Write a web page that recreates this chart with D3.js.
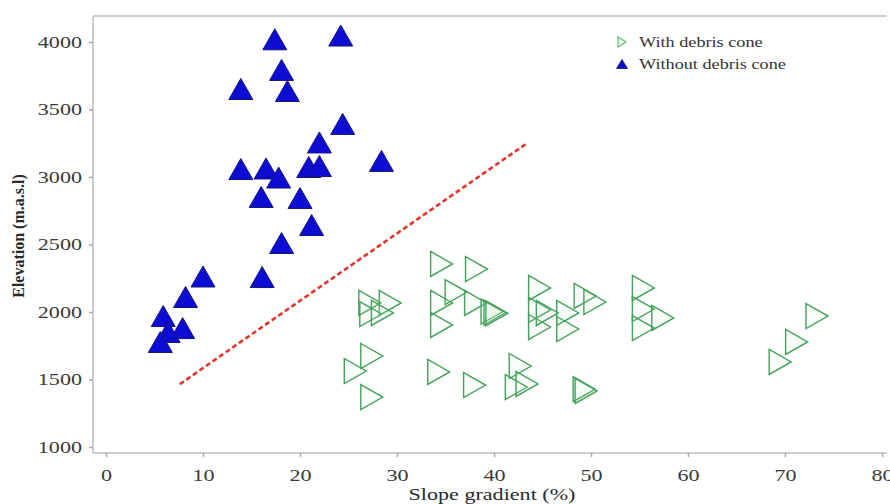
<!DOCTYPE html>
<html>
<head>
<meta charset="utf-8">
<script src="https://cdn.jsdelivr.net/npm/d3@7"></script>
<style>
  html, body { margin: 0; padding: 0; background: #fff; }
  svg { display: block; font-family: "Liberation Serif", "Times New Roman", serif; }
</style>
</head>
<body>
<svg id="chart" width="890" height="504"></svg>
<script>
// Slope gradient (%) and elevation (m a.s.l.) of gullies with a debris cone
const withConeSlope = [27.2, 27.3, 29.3, 28.5, 34.6, 38.2, 34.6, 34.6, 36.1, 38.1,
  39.8, 40.1, 40.3, 44.7, 44.7, 44.7, 45.5, 47.6, 47.6, 49.4, 50.4,
  55.4, 55.4, 55.4, 57.4, 73.3, 71.2, 69.5,
  27.4, 25.7, 27.4, 34.3, 38.0, 42.7, 42.3, 43.4, 49.3, 49.5];
const withConeElev = [2067, 1985, 2067, 1993, 2356, 2318, 2067, 1904, 2148, 2067,
  2003, 1995, 1990, 2178, 2015, 1889, 1993, 1993, 1874, 2119, 2074,
  2178, 2022, 1881, 1956, 1970, 1778, 1630,
  1674, 1563, 1370, 1556, 1459, 1600, 1444, 1467, 1428, 1415];

// Gullies without a debris cone
const withoutConeSlope = [17.4, 24.2, 18.1, 13.9, 18.7, 24.4, 22.0, 13.9, 16.5, 17.8,
  20.9, 22.0, 28.4, 16.0, 20.0, 21.2, 18.1, 10.0, 16.1, 8.2,
  5.9, 7.9, 6.4, 5.6];
const withoutConeElev = [4020, 4048, 3793, 3652, 3637, 3393, 3256, 3059, 3063, 2996,
  3074, 3081, 3119, 2852, 2844, 2644, 2511, 2263, 2259, 2111,
  1970, 1881, 1852, 1778];

// Separating line between the two groups
const dividerSlope = [7.6, 43.4];
const dividerElev = [1465, 3250];

const xTicks = [0, 10, 20, 30, 40, 50, 60, 70, 80];
const yTicks = [1000, 1500, 2000, 2500, 3000, 3500, 4000];
const seriesNames = ["With debris cone", "Without debris cone"];

const svg = d3.select("#chart");
const frame = { left: 93, top: 16, right: 887, bottom: 453 };

const x = d3.scaleLinear().domain([0, 80]).range([106, 882]);
const y = d3.scaleLinear().domain([1000, 4000]).range([447, 42]);

const green = "#45a05c";
const blueFill = "#0c0cd2";
const blueEdge = "#15157a";

// Frame lines
const frameColor = "#cdcdcd";
svg.append("line").attr("x1", frame.left).attr("x2", frame.right)
  .attr("y1", frame.top).attr("y2", frame.top)
  .attr("stroke", frameColor).attr("stroke-width", 2);
svg.append("line").attr("x1", frame.left).attr("x2", frame.left)
  .attr("y1", frame.top).attr("y2", frame.bottom)
  .attr("stroke", frameColor).attr("stroke-width", 2);
svg.append("line").attr("x1", frame.left).attr("x2", frame.right)
  .attr("y1", frame.bottom).attr("y2", frame.bottom)
  .attr("stroke", frameColor).attr("stroke-width", 2);

// Axes
const xAxis = svg.append("g")
  .attr("transform", `translate(0,${frame.bottom})`)
  .call(d3.axisBottom(x).tickValues(xTicks).tickFormat(d3.format("d")).tickSize(4).tickPadding(12));
const yAxis = svg.append("g")
  .attr("transform", `translate(${frame.left},0)`)
  .call(d3.axisLeft(y).tickValues(yTicks).tickFormat(d3.format("d")).tickSize(4).tickPadding(7));

[xAxis, yAxis].forEach(g => {
  g.select(".domain").remove();
  g.selectAll(".tick line").attr("stroke", "#aaa").attr("stroke-width", 1.5);
  g.selectAll(".tick text")
    .attr("fill", "#3a3a3a")
    .style("font-family", "Liberation Serif, serif")
    .style("font-size", "17px");
});

// Axis titles
svg.append("text")
  .attr("class", "stretch")
  .attr("x", 492).attr("y", 500)
  .attr("text-anchor", "middle")
  .attr("fill", "#2a2a2a")
  .style("font-size", "17px")
  .text("Slope gradient (%)");

svg.append("text")
  .attr("transform", "translate(24,236) rotate(-90)")
  .attr("text-anchor", "middle")
  .attr("fill", "#2a2a2a")
  .style("font-size", "16px")
  .style("font-weight", "bold")
  .text("Elevation (m.a.s.l)");

// Divider line
svg.append("line")
  .attr("x1", x(dividerSlope[0])).attr("y1", y(dividerElev[0]))
  .attr("x2", x(dividerSlope[1])).attr("y2", y(dividerElev[1]))
  .attr("stroke", "#e2352e")
  .attr("stroke-width", 2.6)
  .attr("stroke-dasharray", "5,3");

// Marker shapes
function rightTri(w, h) {
  return `M${-w / 2},${-h / 2}L${w / 2},0L${-w / 2},${h / 2}Z`;
}
function upTri(w, h) {
  return `M0,${-h / 2}L${w / 2},${h / 2}L${-w / 2},${h / 2}Z`;
}

// With debris cone: open right-pointing triangles
svg.append("g").selectAll("path")
  .data(d3.zip(withConeSlope, withConeElev))
  .join("path")
  .attr("transform", d => `translate(${x(d[0])},${y(d[1])})`)
  .attr("d", rightTri(22, 25))
  .attr("fill", "rgba(205,240,215,0.15)")
  .attr("stroke", green)
  .attr("stroke-width", 1.4);

// Without debris cone: filled upward triangles
svg.append("g").selectAll("path")
  .data(d3.zip(withoutConeSlope, withoutConeElev))
  .join("path")
  .attr("transform", d => `translate(${x(d[0])},${y(d[1])})`)
  .attr("d", upTri(24, 21))
  .attr("fill", blueFill)
  .attr("stroke", blueEdge)
  .attr("stroke-width", 1);

// Legend
const legend = svg.append("g").attr("transform", "translate(622,42)");
legend.append("path")
  .attr("d", rightTri(8, 10))
  .attr("fill", "rgba(205,240,215,0.4)")
  .attr("stroke", "#6cbf7e")
  .attr("stroke-width", 1.3);
legend.append("path")
  .attr("transform", "translate(0,22)")
  .attr("d", upTri(11, 9))
  .attr("fill", blueFill)
  .attr("stroke", blueEdge)
  .attr("stroke-width", 0.8);
legend.selectAll("text.leg")
  .data(seriesNames)
  .join("text")
  .attr("class", "leg stretch")
  .attr("x", 17)
  .attr("y", (d, i) => i * 22 + 5)
  .attr("fill", "#333")
  .style("font-size", "14px")
  .text(d => d);

// Widen the serif glyphs horizontally
svg.selectAll(".tick text, text.stretch").each(function () {
  const w = this.getComputedTextLength();
  d3.select(this).attr("textLength", w * 1.3).attr("lengthAdjust", "spacingAndGlyphs");
});
</script>
</body>
</html>
